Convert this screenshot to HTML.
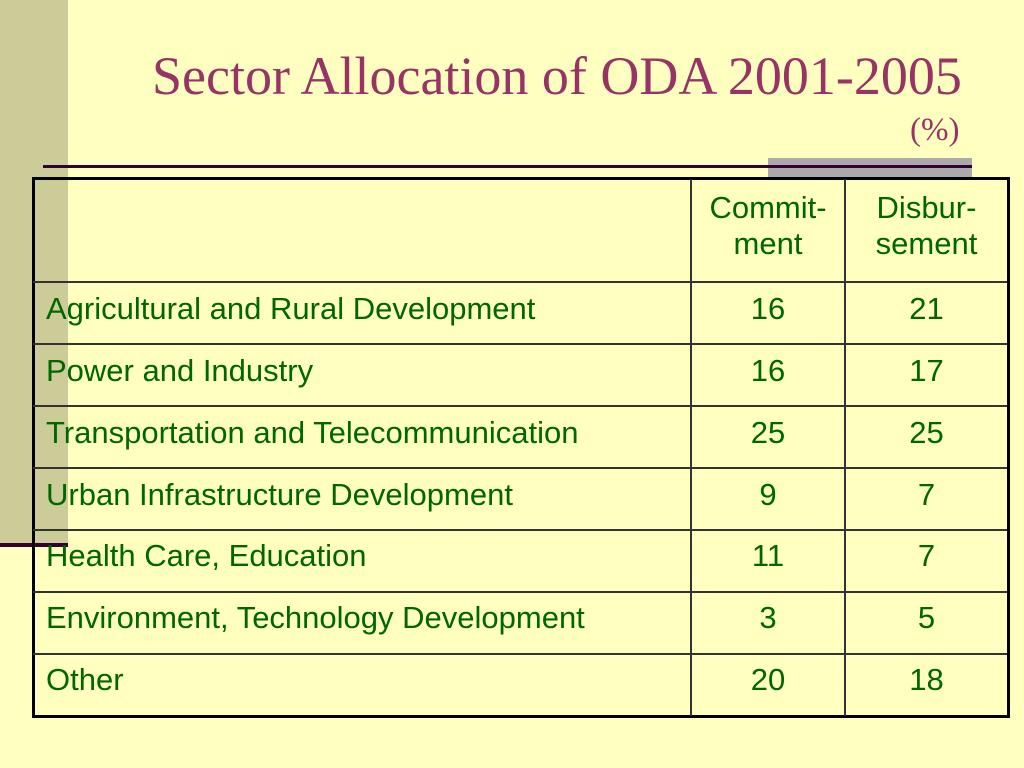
<!DOCTYPE html>
<html><head><meta charset="utf-8"><style>
body{margin:0;width:1024px;height:768px;background:#FFFFC0;position:relative;overflow:hidden;font-family:"Liberation Sans",sans-serif}
.abs{position:absolute}
.t{position:absolute;color:#006600;font-size:31px;line-height:36px;white-space:nowrap}
.c{text-align:center}
.h{position:absolute;left:33px;width:974px;height:2px;background:#333}
.v{position:absolute;top:179px;width:2px;height:537px;background:#333}
</style></head><body>
<div class="abs" style="left:0;top:0;width:68px;height:543px;background:#CCCC99"></div>
<div class="abs" style="left:0;top:543px;width:68px;height:4px;background:#330033"></div>
<div class="abs" style="left:152px;top:44px;font-family:'Liberation Serif',serif;font-size:54px;line-height:64px;color:#993366;white-space:nowrap">Sector Allocation of ODA 2001-2005</div>
<div class="abs" style="left:910px;top:111px;font-family:'Liberation Serif',serif;font-size:33px;line-height:38px;color:#993366">(%)</div>
<div class="abs" style="left:768px;top:158px;width:204px;height:19px;background:#AAAAAA"></div>
<div class="abs" style="left:43px;top:165px;width:929px;height:3px;background:#330033"></div>
<div class="abs" style="left:32px;top:177px;width:972px;height:535px;border:3px solid #000"></div>
<div class="v" style="left:690px"></div><div class="v" style="left:844px"></div>
<div class="h" style="top:281px"></div><div class="h" style="top:343px"></div><div class="h" style="top:405px"></div><div class="h" style="top:467px"></div><div class="h" style="top:529px"></div><div class="h" style="top:591px"></div><div class="h" style="top:653px"></div>
<div class="t c" style="left:692px;width:152px;top:190px">Commit-<br>ment</div>
<div class="t c" style="left:846px;width:161px;top:190px">Disbur-<br>sement</div>

<div class="t" style="left:46px;top:291px">Agricultural and Rural Development</div>
<div class="t c" style="left:692px;width:152px;top:291px">16</div>
<div class="t c" style="left:846px;width:161px;top:291px">21</div>

<div class="t" style="left:46px;top:353px">Power and Industry</div>
<div class="t c" style="left:692px;width:152px;top:353px">16</div>
<div class="t c" style="left:846px;width:161px;top:353px">17</div>

<div class="t" style="left:46px;top:415px">Transportation and Telecommunication</div>
<div class="t c" style="left:692px;width:152px;top:415px">25</div>
<div class="t c" style="left:846px;width:161px;top:415px">25</div>

<div class="t" style="left:46px;top:477px">Urban Infrastructure Development</div>
<div class="t c" style="left:692px;width:152px;top:477px">9</div>
<div class="t c" style="left:846px;width:161px;top:477px">7</div>

<div class="t" style="left:46px;top:538px">Health Care, Education</div>
<div class="t c" style="left:692px;width:152px;top:538px">11</div>
<div class="t c" style="left:846px;width:161px;top:538px">7</div>

<div class="t" style="left:46px;top:600px">Environment, Technology Development</div>
<div class="t c" style="left:692px;width:152px;top:600px">3</div>
<div class="t c" style="left:846px;width:161px;top:600px">5</div>

<div class="t" style="left:46px;top:662px">Other</div>
<div class="t c" style="left:692px;width:152px;top:662px">20</div>
<div class="t c" style="left:846px;width:161px;top:662px">18</div>
</body></html>
